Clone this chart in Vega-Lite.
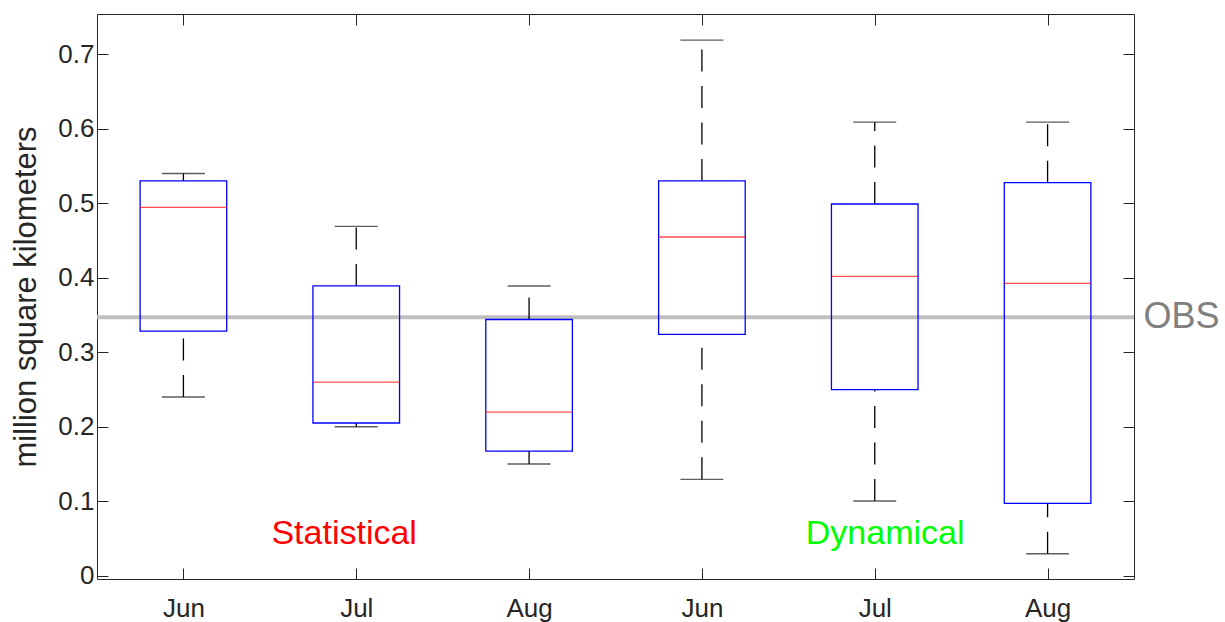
{
  "$schema": "https://vega.github.io/schema/vega-lite/v6.json",
  "width": 1037,
  "height": 565,
  "autosize": {"type": "none"},
  "padding": {"left": 97, "top": 14, "right": 91, "bottom": 43},
  "background": "white",
  "config": {
    "font": "Liberation Sans",
    "view": {"stroke": "#262626", "strokeWidth": 1},
    "scale": {"continuousPadding": 0},
    "axis": {"grid": false, "domain": false, "tickColor": "#262626", "tickWidth": 1, "labelColor": "#262626", "labelFont": "Liberation Sans", "titleFont": "Liberation Sans"}
  },
  "datasets": {
    "boxes": [
      {"pos": 1, "group": "Statistical", "month": "Jun", "lower": 0.24, "q1": 0.3285, "median": 0.4945, "q3": 0.53, "upper": 0.54},
      {"pos": 2, "group": "Statistical", "month": "Jul", "lower": 0.20, "q1": 0.205, "median": 0.26, "q3": 0.389, "upper": 0.469},
      {"pos": 3, "group": "Statistical", "month": "Aug", "lower": 0.15, "q1": 0.1674, "median": 0.2197, "q3": 0.344, "upper": 0.389},
      {"pos": 4, "group": "Dynamical", "month": "Jun", "lower": 0.1294, "q1": 0.324, "median": 0.4547, "q3": 0.53, "upper": 0.719},
      {"pos": 5, "group": "Dynamical", "month": "Jul", "lower": 0.1003, "q1": 0.2497, "median": 0.402, "q3": 0.499, "upper": 0.609},
      {"pos": 6, "group": "Dynamical", "month": "Aug", "lower": 0.0295, "q1": 0.0972, "median": 0.3925, "q3": 0.5276, "upper": 0.609}
    ],
    "obs": [{"label": "OBS", "value": 0.347, "pos": 6.555}],
    "labels": [
      {"text": "Statistical", "x": 1.93, "y": 0.043},
      {"text": "Dynamical", "x": 5.06, "y": 0.043}
    ]
  },
  "layer": [
    {
      "data": {"name": "obs"},
      "mark": {"type": "rule", "color": "#bfbfbf", "strokeWidth": 4},
      "encoding": {
        "y": {"field": "value", "type": "quantitative", "scale": {"domain": [-0.0044, 0.7541], "nice": false, "zero": false, "padding": 0}, "axis": null}
      }
    },
    {
      "data": {"name": "boxes"},
      "mark": {"type": "rule", "color": "#000000", "strokeWidth": 1.3, "strokeDash": [22, 14.5]},
      "encoding": {
        "x": {"field": "pos", "type": "quantitative", "scale": {"domain": [0.5, 6.5], "nice": false, "zero": false, "padding": 0}, "axis": null},
        "y": {"field": "q3", "type": "quantitative", "scale": {"domain": [-0.0044, 0.7541], "nice": false, "zero": false, "padding": 0}, "axis": null},
        "y2": {"field": "upper"}
      }
    },
    {
      "data": {"name": "boxes"},
      "mark": {"type": "rule", "color": "#000000", "strokeWidth": 1.3, "strokeDash": [22, 14.5]},
      "encoding": {
        "x": {"field": "pos", "type": "quantitative", "scale": {"domain": [0.5, 6.5], "nice": false, "zero": false, "padding": 0}, "axis": null},
        "y": {"field": "lower", "type": "quantitative", "scale": {"domain": [-0.0044, 0.7541], "nice": false, "zero": false, "padding": 0}, "axis": null},
        "y2": {"field": "q1"}
      }
    },
    {
      "data": {"name": "boxes"},
      "mark": {"type": "tick", "orient": "horizontal", "color": "#1a1a1a", "size": 43, "thickness": 1.4},
      "encoding": {
        "x": {"field": "pos", "type": "quantitative", "scale": {"domain": [0.5, 6.5], "nice": false, "zero": false, "padding": 0}, "axis": null},
        "y": {"field": "upper", "type": "quantitative", "scale": {"domain": [-0.0044, 0.7541], "nice": false, "zero": false, "padding": 0}, "axis": null}
      }
    },
    {
      "data": {"name": "boxes"},
      "mark": {"type": "tick", "orient": "horizontal", "color": "#1a1a1a", "size": 43, "thickness": 1.4},
      "encoding": {
        "x": {"field": "pos", "type": "quantitative", "scale": {"domain": [0.5, 6.5], "nice": false, "zero": false, "padding": 0}, "axis": null},
        "y": {"field": "lower", "type": "quantitative", "scale": {"domain": [-0.0044, 0.7541], "nice": false, "zero": false, "padding": 0}, "axis": null}
      }
    },
    {
      "data": {"name": "boxes"},
      "mark": {"type": "bar", "width": 86.6, "fill": "white", "fillOpacity": 0, "stroke": "#0000ff", "strokeWidth": 1.3},
      "encoding": {
        "x": {"field": "pos", "type": "quantitative", "scale": {"domain": [0.5, 6.5], "nice": false, "zero": false, "padding": 0},
          "axis": {"orient": "bottom", "values": [1, 2, 3, 4, 5, 6], "labelExpr": "['Jun','Jul','Aug','Jun','Jul','Aug'][datum.value - 1]", "tickSize": -11, "labelPadding": 27, "labelFontSize": 26, "title": null}},
        "y": {"field": "q1", "type": "quantitative", "scale": {"domain": [-0.0044, 0.7541], "nice": false, "zero": false, "padding": 0},
          "axis": {"orient": "left", "values": [0, 0.1, 0.2, 0.3, 0.4, 0.5, 0.6, 0.7], "format": ".1~f", "tickSize": -11, "labelPadding": 14, "labelFontSize": 26, "title": "million square kilometers", "titleFontSize": 31, "titleFontWeight": "normal", "titleColor": "#262626", "titlePadding": 15}},
        "y2": {"field": "q3"}
      }
    },
    {
      "data": {"name": "boxes"},
      "mark": {"type": "tick", "orient": "horizontal", "color": "#ff0000", "size": 86.6, "thickness": 1.3},
      "encoding": {
        "x": {"field": "pos", "type": "quantitative", "scale": {"domain": [0.5, 6.5], "nice": false, "zero": false, "padding": 0}, "axis": null},
        "y": {"field": "median", "type": "quantitative", "scale": {"domain": [-0.0044, 0.7541], "nice": false, "zero": false, "padding": 0}, "axis": null}
      }
    },
    {
      "data": {"name": "labels"},
      "mark": {"type": "text", "fontSize": 34, "align": "center", "baseline": "alphabetic"},
      "encoding": {
        "x": {"field": "x", "type": "quantitative", "scale": {"domain": [0.5, 6.5], "nice": false, "zero": false, "padding": 0}, "axis": null},
        "y": {"field": "y", "type": "quantitative", "scale": {"domain": [-0.0044, 0.7541], "nice": false, "zero": false, "padding": 0}, "axis": null},
        "text": {"field": "text"},
        "color": {"field": "text", "type": "nominal", "scale": {"domain": ["Statistical", "Dynamical"], "range": ["#ff0000", "#00ff00"]}, "legend": null}
      }
    },
    {
      "data": {"name": "obs"},
      "mark": {"type": "text", "fontSize": 36, "align": "left", "baseline": "middle", "color": "#808080"},
      "encoding": {
        "x": {"field": "pos", "type": "quantitative", "scale": {"domain": [0.5, 6.5], "nice": false, "zero": false, "padding": 0},
          "axis": {"orient": "top", "values": [1, 2, 3, 4, 5, 6], "tickSize": -11, "labels": false, "title": null}},
        "y": {"field": "value", "type": "quantitative", "scale": {"domain": [-0.0044, 0.7541], "nice": false, "zero": false, "padding": 0},
          "axis": {"orient": "right", "values": [0, 0.1, 0.2, 0.3, 0.4, 0.5, 0.6, 0.7], "tickSize": -11, "labels": false, "title": null}},
        "text": {"field": "label"}
      }
    }
  ],
  "resolve": {"axis": {"x": "independent", "y": "independent"}}
}
